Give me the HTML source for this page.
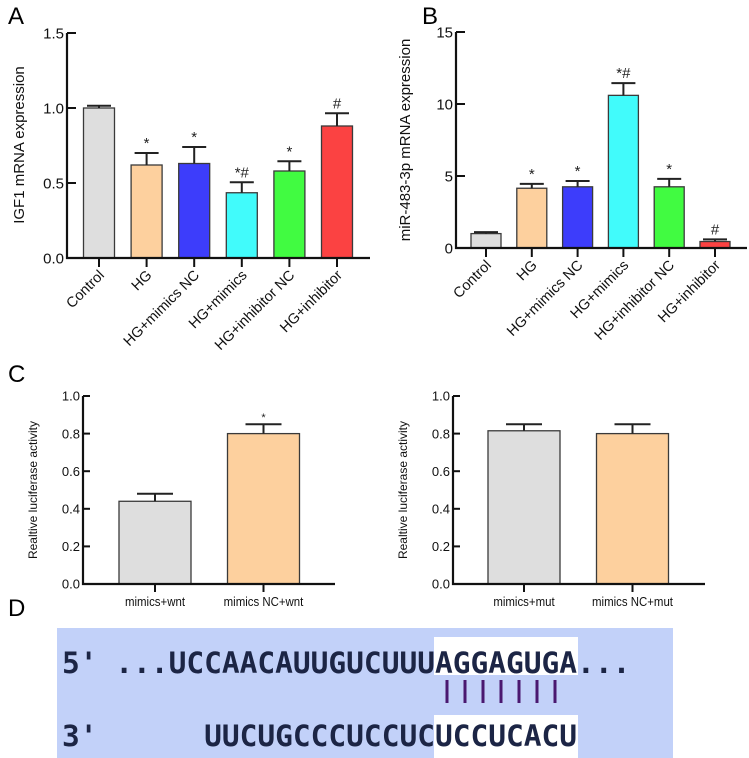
<!DOCTYPE html>
<html><head><meta charset="utf-8">
<style>
html,body{margin:0;padding:0;background:#fff;}
svg{display:block;font-family:"Liberation Sans",Arial,sans-serif;}
.mono{font-family:"DejaVu Sans Mono","Liberation Mono",monospace;font-weight:bold;}
</style></head>
<body>
<svg id="fig" width="749" height="758" viewBox="0 0 749 758" xmlns="http://www.w3.org/2000/svg">
  <text x="8" y="24" font-size="24" font-weight="300">A</text>
  <text x="422" y="24" font-size="24" font-weight="300">B</text>
  <text x="8" y="382" font-size="24" font-weight="300">C</text>
  <text x="8" y="616" font-size="24" font-weight="300">D</text>
  <g id="charts"></g>
  <g>
    <rect x="57" y="628" width="616" height="130" fill="#c2d1f9"/>
    <rect x="434" y="637" width="144" height="38" fill="#ffffff"/>
    <rect x="434" y="715" width="144" height="43" fill="#ffffff"/>
    <text class="mono" x="62" y="673" font-size="29.5" fill="#1c2545" xml:space="preserve">5' ...UCCAACAUUGUCUUUAGGAGUGA...</text>
    <text class="mono" x="62" y="746" font-size="29.5" fill="#1c2545" xml:space="preserve">3'      UUCUGCCCUCCUCUCCUCACU</text>
    <g id="pairs" stroke="#4a1870" stroke-width="3"></g>
  </g>
</svg>
<script>
// Panel A data
const catsA = ["Control","HG","HG+mimics NC","HG+mimics","HG+inhibitor NC","HG+inhibitor"];
const valsA = [1.0, 0.62, 0.63, 0.435, 0.58, 0.88];
const errA = [0.015, 0.08, 0.11, 0.07, 0.065, 0.085];
const sigA = ["", "*", "*", "*#", "*", "#"];
const ticksA = ["0.0","0.5","1.0","1.5"];
// Panel B data
const catsB = ["Control","HG","HG+mimics NC","HG+mimics","HG+inhibitor NC","HG+inhibitor"];
const valsB = [1.0, 4.15, 4.25, 10.6, 4.25, 0.45];
const errB = [0.1, 0.3, 0.4, 0.85, 0.55, 0.15];
const sigB = ["", "*", "*", "*#", "*", "#"];
const ticksB = ["0","5","10","15"];
// Panel C data
const catsC1 = ["mimics+wnt","mimics NC+wnt"];
const valsC1 = [0.44, 0.80];
const errC1 = [0.04, 0.05];
const sigC1 = ["", "*"];
const catsC2 = ["mimics+mut","mimics NC+mut"];
const valsC2 = [0.815, 0.80];
const errC2 = [0.035, 0.05];
const sigC2 = ["", ""];
const ticksC = ["0.0","0.2","0.4","0.6","0.8","1.0"];

const colors6 = ["#dedede","#fdd09e","#3d3dfb","#41fbfb","#41fb41","#fb4242"];
const colors2 = ["#dedede","#fdd09e"];
const NS = "http://www.w3.org/2000/svg";
const root = document.getElementById("charts");
function el(tag, attrs, parent){const e=document.createElementNS(NS,tag);for(const k in attrs)e.setAttribute(k,attrs[k]);(parent||root).appendChild(e);return e;}

function chart(o){
  const g = el("g",{});
  
  
  const yMax = parseFloat(o.ticks[o.ticks.length-1]);
  const y = v => o.y0 - (v / yMax) * (o.y0 - o.y1);
  const n = o.cats.length;
  const x = i => o.xFirst + i * o.step;
  // bars
  o.vals.forEach((v,i)=>{
    const cx = x(i);
    const b = el("rect",{x:cx-o.bw/2,y:y(v),width:o.bw,height:o.y0-y(v),fill:o.colors[i],stroke:"#3a3a3a","stroke-width":1.3},g);
    
    
    const top = y(v + o.errs[i]);
    const eb = el("path",{d:`M${cx},${y(v)}V${top}M${cx-o.cap/2},${top}H${cx+o.cap/2}`,stroke:"#222","stroke-width":2,fill:"none"},g);
    
    
    if(o.sig[i]){
      const s = el("text",{x:cx+ (o.sig[i].length>1?0:0),y:top-o.sigGap,"font-size":o.sigSize,"text-anchor":"middle",fill:"#222"},g);
      s.textContent = o.sig[i];
      
      
    }
    // x tick
    el("line",{x1:cx,y1:o.y0,x2:cx,y2:o.y0+o.tickLen,stroke:"#111","stroke-width":2},g);
    let t;
    if(o.rot){
      t = el("text",{x:0,y:0,"font-size":o.xfs,"text-anchor":"end",fill:"#111",transform:`translate(${cx+6},${o.y0+o.tickLen+9}) rotate(-45)`},g);
    } else {
      t = el("text",{x:cx,y:o.y0+o.tickLen+14,"font-size":o.xfs,"text-anchor":"middle",fill:"#111",transform:`translate(${cx},0) scale(0.88,1) translate(${-cx},0)`},g);
    }
    t.textContent = o.cats[i];
    
    
  });
  // axes
  const ax = el("path",{d:`M${o.xAxis},${o.y1}V${o.y0}H${o.xEnd}`,stroke:"#111","stroke-width":2.2,fill:"none"},g);
  
  
  o.ticks.forEach(tk=>{
    const ty = y(parseFloat(tk));
    el("line",{x1:o.xAxis,y1:ty,x2:o.xAxis+o.yTickLen,y2:ty,stroke:"#111","stroke-width":2},g);
    const tl = el("text",{x:o.xAxis-3,y:ty+o.yfs*0.36,"font-size":o.yfs,"text-anchor":"end",fill:"#111"},g);
    tl.textContent = tk;
    
    
  });
  const yt = el("text",{x:0,y:0,"font-size":o.tfs,"text-anchor":"middle",fill:"#111",transform:`translate(${o.titleX},${o.titleY}) rotate(-90)`},g);
  yt.textContent = o.title;
  
  
}

chart({name:"chart-igf1",cats:catsA,vals:valsA,errs:errA,sig:sigA,ticks:ticksA,colors:colors6,
  y0:258,y1:33,xAxis:67,xEnd:370,xFirst:99,step:47.6,bw:31,cap:24,tickLen:9,yTickLen:9,
  rot:true,xfs:14.5,yfs:15,tfs:15,sigGap:5,sigSize:15,title:"IGF1 mRNA expression",titleX:24,titleY:145});
chart({name:"chart-mir483",cats:catsB,vals:valsB,errs:errB,sig:sigB,ticks:ticksB,colors:colors6,
  y0:248,y1:32,xAxis:456,xEnd:747,xFirst:486,step:45.8,bw:30,cap:24,tickLen:9,yTickLen:9,
  rot:true,xfs:14.5,yfs:15,tfs:15,sigGap:5,sigSize:15,title:"miR-483-3p mRNA expression",titleX:410,titleY:140});
chart({name:"chart-luciferase-wnt",cats:catsC1,vals:valsC1,errs:errC1,sig:sigC1,ticks:ticksC,colors:colors2,
  y0:584,y1:396,xAxis:83,xEnd:335,xFirst:155,step:108.5,bw:72,cap:36,tickLen:8,yTickLen:7,
  rot:false,xfs:13,yfs:13,tfs:12,sigGap:3,sigSize:11,title:"Realtive luciferase activity",titleX:37,titleY:490});
chart({name:"chart-luciferase-mut",cats:catsC2,vals:valsC2,errs:errC2,sig:sigC2,ticks:ticksC,colors:colors2,
  y0:584,y1:396,xAxis:453,xEnd:705,xFirst:524,step:108.5,bw:72,cap:36,tickLen:8,yTickLen:7,
  rot:false,xfs:13,yfs:13,tfs:12,sigGap:3,sigSize:11,title:"Realtive luciferase activity",titleX:407,titleY:490});

const pairCount = [1,1,1,1,1,1,1];
const pg = document.getElementById("pairs");
pairCount.forEach((p,i)=>{
  const lx = 447 + i*18;
  const l = el("line",{x1:lx,y1:680,x2:lx,y2:703},pg);
  
  
});
</script>
</body></html>
